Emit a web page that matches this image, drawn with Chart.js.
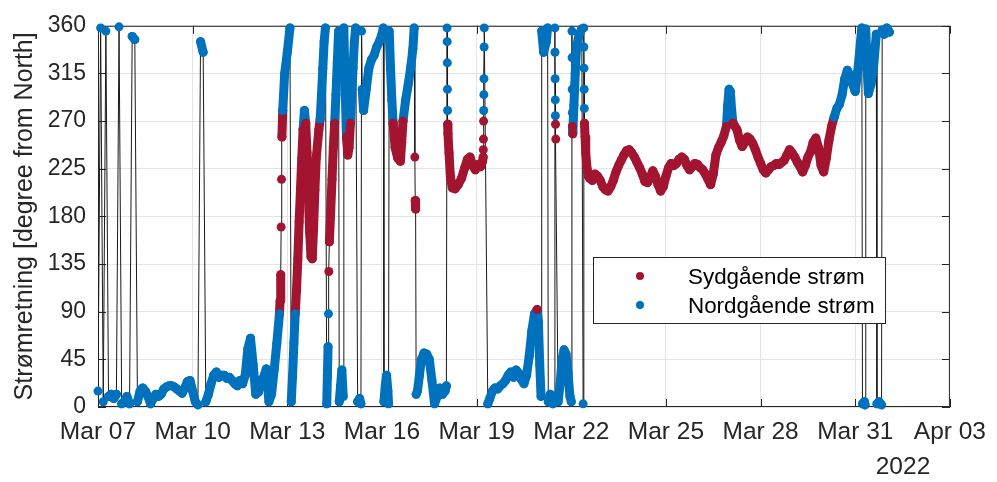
<!DOCTYPE html>
<html>
<head>
<meta charset="utf-8">
<script src="https://cdn.jsdelivr.net/npm/chart.js@4.4.1/dist/chart.umd.min.js"></script>
<style>
  html, body { margin: 0; padding: 0; background: #fff; }
  #wrap { width: 997px; height: 482px; }
</style>
</head>
<body>
<div id="wrap"><canvas id="dirChart"></canvas></div>
<script>
// [hours after 2022-03-07 00:00, current direction in degrees]
const mar07to09 = [
  [0,15],[2,358],[4,5],[6,355],[8,10],[10,12],[12,8],[14,12],[16,359],[18,3],[20,5],[22,10],
  [24,3],[26,350],[28,347],[30,5],[32,15],[34,18],[36,15],[38,10],[40,3],[42,8],[44,12],[46,10],
  [48,12],[50,17],[52,19],[54,20],[56,20],[58,19],[60,17],[62,15],[64,13],[66,18],[68,24],[70,25]
];
const mar10to12 = [
  [72,15],[74,5],[76,2],[78,345],[80,335],[82,5],[84,12],[86,22],[88,30],[90,33],[92,28],[94,30],
  [96,30],[98,27],[100,28],[102,25],[104,22],[106,20],[108,25],[110,22],[112,30],[114,55],[116,65],[118,40],
  [120,12],[122,14],[124,25],[126,28],[128,36],[130,5],[132,12],[134,35],[136,60],[138,88],
  [138.5,100],[139,125],[139.3,170],[139.6,215],[139.9,255],[140.5,280],[142,315]
];
const mar13to15 = [
  [144,335],[146,358],[147,5],[148,30],[149,60],[150,88],[151,110],[152,140],[153,175],[154,205],
  [155,235],[156,262],[157,280],[158,268],[159,240],[160,200],[161,165],[162,142],[163,140],[164,170],
  [165,205],[166,235],[168,262],[169,272],[170,295],[171,320],[172,345],[173,358],[174,3],[174.5,30],
  [175,57],[175.3,88],[175.6,128],[176,156],[177,185],[178,215],[179,245],[180,268],[181,295],[182,325],
  [183,355],[183.5,5],[184.5,20],[185.5,35],[186.5,10],[187,358],[188,300],[189,255],[190,238],[191,245],
  [192,268],[193,295],[194,320],[195,345],[196,358],[197.5,5],[199,8],[200,3],[200.5,355],[201,300],
  [202,280],[204,300],[206,320],[208,328],[210,332],[212,340],[214,345]
];
const mar16to18 = [
  [216,352],[217,358],[217.5,5],[218.5,20],[219.5,30],[220.5,15],[221,3],[221.5,355],[222.5,320],[223.5,290],
  [224.5,268],[226,245],[228,235],[230,232],[231,250],[232,270],[234,290],[236,305],[238,322],[239.5,338],
  [240.5,358],[241,236],[241.3,195],[241.6,187],[242,12],[243,15],[244.5,30],[246,45],[248,51],[250,50],
  [252,45],[254,25],[256,3],[258,10],[260,18],[262,12],[264,15],[265,20],[265.5,358],[265.6,345],
  [265.7,325],[265.8,300],[265.9,280],[266,267],[266.2,258],[267,240],[268,218],[269.5,207],[271.5,206],[274,210],
  [276.5,216],[279,226],[281,234],[283,236],[285,228],[287,224],[289,229],[291,227],[292.5,232]
];
const mar19to21 = [
  [293,236],[293.1,243],[293.2,253],[293.3,270],[293.4,280],[293.5,295],[293.6,310],[293.7,340],[293.8,358],
  [296.5,3],[298,8],[300,15],[302,18],[304,17],[306,20],[308,22],[310,25],[312,30],[314,33],[316,28],
  [318,35],[320,32],[322,26],[324,22],[326,30],[328,48],[330,72],[332,88],[334,92],[335,80],[336,40],
  [337,10],[337.5,355],[339,335],[341,345],[342,358],[342.5,5],[344,12],[346,3],[347,8],[347.5,358],
  [347.6,335],[347.7,310],[347.8,290],[347.9,275],[348,267],[348.2,253],[350,5],[351.5,22],[353,45],
  [354.5,54],[356,50],[357.5,32],[359,10],[360,5],[360.5,355],[360.6,330],[360.7,300],[360.8,278],
  [360.9,265],[361.1,258],[362,285],[363,315],[364,340],[366,352],[368,357],[369,3],[369.5,358],
  [369.6,340],[369.7,320],[369.8,300],[369.9,282],[370,268],[370.5,255],[371,240],[372,225],[373,218]
];
const mar22to26 = [
  [374,216],[376,214],[378,220],[380,218],[382,214],[384,208],[386,205],[388,204],[390,208],[392,214],
  [394,222],[396,228],[398,233],[400,238],[402,242],[404,243],[406,240],[408,236],[410,231],[412,226],
  [414,220],[416,213],[418,212],[420,217],[422,223],[424,218],[426,210],[428,204],[430,208],[432,218],
  [434,226],[436,230],[438,228],[440,230],[442,234],[444,236],[446,234],[448,228],[450,224],[452,227],
  [454,230],[456,229],[458,226],[460,224],[462,220],[464,215],[466,210],[468,220],[470,238],[472,245],
  [474,250],[476,256],[478,265],[479,285],[480,300],[481,298],[482,280],[483,268],[484,266],[486,262]
];
const mar27to31 = [
  [488,252],[490,246],[492,250],[494,255],[496,253],[498,249],[500,243],[502,236],[504,230],[506,224],
  [508,221],[510,224],[512,227],[514,228],[516,230],[518,229],[520,231],[522,233],[524,238],[526,243],
  [528,240],[530,236],[532,231],[534,227],[536,222],[538,228],[540,236],[542,241],[544,250],[546,254],
  [548,245],[550,228],[552,222],[554,235],[556,252],[558,265],[560,274],[562,282],[564,286],[566,295],
  [568,310],[570,318],[572,313],[574,305],[576,298],[578,318],[580,345],[581,358],[581.5,3],[583,5],
  [583.5,2],[584,357],[585,320],[586,296],[588,305],[590,322],[592,352],[592.5,3],[594,5],[596,2],
  [596.5,356],[598,352],[600,358],[602,354]
];

const xTickLabels = ['Mar 07', 'Mar 10', 'Mar 13', 'Mar 16', 'Mar 19', 'Mar 22', 'Mar 25', 'Mar 28', 'Mar 31', 'Apr 03'];
const yearLabel = '2022';
const legendLabels = ['Sydgående strøm', 'Nordgående strøm'];

const FONT = '"Liberation Sans", Arial, Helvetica, sans-serif';
const RED = '#A2142F';
const BLUE = '#0072BD';
const AXIS = '#262626';

const isSouth = v => v >= 90 && v <= 270;

const allPoints = [].concat(mar07to09, mar10to12, mar13to15, mar16to18, mar19to21, mar22to26, mar27to31)
    .map(p => ({ x: p[0], y: p[1] }));
const southPoints = allPoints.filter(p => isSouth(p.y));
const northPoints = allPoints.filter(p => !isSouth(p.y));

// box, inner tick marks, legend and the year label
const matlabLook = {
    id: 'matlabLook',
    beforeDatasetsDraw(chart) {
        const { ctx, chartArea: a, scales } = chart;
        ctx.save();
        ctx.strokeStyle = AXIS;
        ctx.lineWidth = 1;
        ctx.strokeRect(a.left + 0.5, a.top + 0.5, a.right - a.left - 1, a.bottom - a.top - 1);
        ctx.beginPath();
        scales.x.ticks.forEach(t => {
            const px = Math.round(scales.x.getPixelForValue(t.value)) + 0.5;
            ctx.moveTo(px, a.bottom); ctx.lineTo(px, a.bottom - 8);
            ctx.moveTo(px, a.top); ctx.lineTo(px, a.top + 8);
        });
        scales.y.ticks.forEach(t => {
            const py = Math.round(scales.y.getPixelForValue(t.value)) + 0.5;
            ctx.moveTo(a.left, py); ctx.lineTo(a.left + 8, py);
            ctx.moveTo(a.right, py); ctx.lineTo(a.right - 8, py);
        });
        ctx.stroke();
        ctx.restore();
    },
    afterDraw(chart) {
        const { ctx } = chart;
        ctx.save();
        // legend
        ctx.fillStyle = '#fff';
        ctx.fillRect(593, 257, 292, 66);
        ctx.strokeStyle = AXIS;
        ctx.lineWidth = 1;
        ctx.strokeRect(593.5, 257.5, 292, 66);
        [RED, BLUE].forEach((c, i) => {
            ctx.fillStyle = c;
            ctx.beginPath();
            ctx.arc(640, 276 + i * 29, 4, 0, Math.PI * 2);
            ctx.fill();
        });
        ctx.fillStyle = '#000';
        ctx.font = '22.4px ' + FONT;
        ctx.textBaseline = 'middle';
        ctx.textAlign = 'left';
        legendLabels.forEach((t, i) => ctx.fillText(t, 688, 278 + i * 29));
        // year under the last date tick
        ctx.fillStyle = AXIS;
        ctx.font = '24.5px ' + FONT;
        ctx.textAlign = 'center';
        ctx.fillText(yearLabel, 903, 467);
        ctx.restore();
    }
};

new Chart(document.getElementById('dirChart'), {
    type: 'line',
    data: {
        datasets: [
            {
                label: legendLabels[0],
                data: southPoints,
                showLine: false,
                pointRadius: 4.5,
                pointBorderWidth: 0,
                pointBackgroundColor: RED,
                clip: false,
                order: 1
            },
            {
                label: legendLabels[1],
                data: northPoints,
                showLine: false,
                pointRadius: 4.5,
                pointBorderWidth: 0,
                pointBackgroundColor: BLUE,
                clip: false,
                order: 1
            },
            {
                // marker trail between samples, coloured like the markers
                label: 'trail',
                data: allPoints,
                pointRadius: 0,
                borderWidth: 9,
                borderCapStyle: 'round',
                borderJoinStyle: 'round',
                clip: false,
                segment: {
                    borderColor: c => {
                        const a = c.p0.parsed, b = c.p1.parsed;
                        const dy = Math.abs(b.y - a.y);
                        if (dy > 180 || dy / (b.x - a.x) > 60) return 'rgba(0,0,0,0)';
                        return isSouth((a.y + b.y) / 2) ? RED : BLUE;
                    }
                },
                order: 2
            },
            {
                label: 'path',
                data: allPoints,
                pointRadius: 0,
                borderWidth: 1,
                borderColor: '#1a1a1a',
                order: 3
            }
        ]
    },
    options: {
        responsive: true,
        maintainAspectRatio: false,
        animation: false,
        events: [],
        layout: {
            padding: { top: 18, right: 47, bottom: 0, left: 0 }
        },
        plugins: {
            legend: { display: false },
            tooltip: { enabled: false }
        },
        scales: {
            x: {
                type: 'linear',
                min: 0,
                max: 648,
                border: { display: false },
                grid: { color: '#e4e4e4', drawTicks: false },
                ticks: {
                    stepSize: 72,
                    autoSkip: false,
                    maxRotation: 0,
                    padding: 11,
                    color: AXIS,
                    font: { family: FONT, size: 24.5 },
                    callback: v => xTickLabels[Math.round(v / 72)]
                },
                afterFit: s => { s.height = 75; }
            },
            y: {
                min: 0,
                max: 360,
                border: { display: false },
                grid: { color: '#e4e4e4', drawTicks: false },
                ticks: {
                    stepSize: 45,
                    padding: 12,
                    color: AXIS,
                    font: { family: FONT, size: 23 }
                },
                title: {
                    display: true,
                    text: 'Strømretning [degree from North]',
                    color: AXIS,
                    font: { family: FONT, size: 25 },
                    padding: { top: 10, bottom: 0 }
                },
                afterFit: s => { s.width = 98; }
            }
        }
    },
    plugins: [matlabLook]
});
</script>
</body>
</html>
